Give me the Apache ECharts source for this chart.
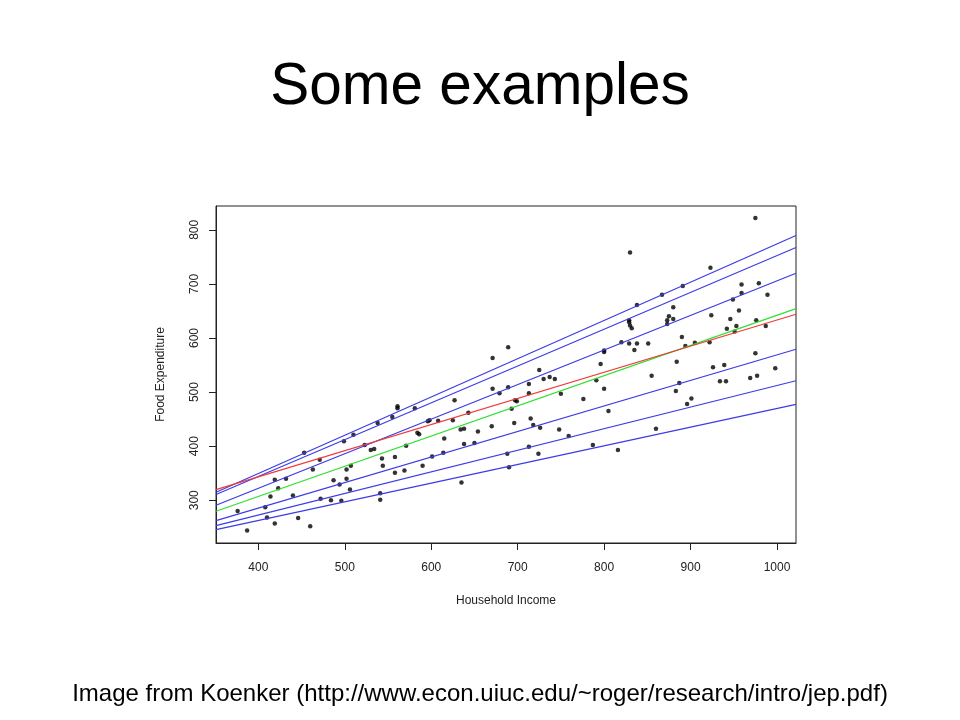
<!DOCTYPE html>
<html>
<head>
<meta charset="utf-8">
<script src="https://cdn.jsdelivr.net/npm/echarts@6/dist/echarts.min.js"></script>
<style>html,body{margin:0;padding:0;background:#fff}#c{width:960px;height:720px}</style>
</head>
<body>
<div id="c"></div>
<script>
var titleText = 'Some examples';
var captionText = 'Image from Koenker (http://www.econ.uiuc.edu/~roger/research/intro/jep.pdf)';
var xName = 'Household Income';
var yName = 'Food Expenditure';
var xTicks = [400, 500, 600, 700, 800, 900, 1000];
var yTicks = [300, 400, 500, 600, 700, 800];

var income = [376,387,408,410,414,419,419,423,432,440,446,453,460,463,471,472,484,487,494,496,
  499,502,502,506,507,510,523,530,534,538,541,541,543,544,555,558,558,561,561,569,
  571,581,584,586,590,596,598,601,608,614,615,625,627,634,635,638,638,643,650,654,
  670,671,671,679,688,689,689,690,693,696,697,699,713,713,713,715,718,724,725,726,
  730,737,743,748,750,759,776,787,791,796,800,800,800,805,816,820,829,829,830,832,
  829,830,835,838,838,851,855,860,867,873,873,875,880,880,884,883,887,890,891,894,
  896,901,905,922,923,924,926,934,939,941,942,946,949,951,953,956,959,959,969,975,
  975,976,977,979,987,989,998];
var foodexp = [280,244,287,268,307,338,257,322,340,309,267,388,252,357,375,303,300,337,329,299,
  409,357,340,320,364,421,402,393,395,443,313,301,377,364,454,380,351,474,470,355,
  401,470,425,422,364,446,448,381,447,388,414,448,485,431,333,432,404,462,406,427,
  437,506,563,498,386,583,509,361,469,443,485,483,515,498,399,451,439,386,541,434,
  524,528,524,431,497,419,487,402,522,552,577,574,506,465,393,592,633,629,623,618,
  590,758,578,661,590,590,530,432,680,626,633,640,635,657,556,502,517,602,696,585,
  478,488,591,592,730,642,546,520,550,520,617,635,671,612,622,651,699,683,526,822,
  572,633,530,701,622,680,544];

// fitted lines read at the left and right edges of the plot
var lineX = [351, 1022];
var q95 = [314.8, 789.4];
var q90 = [310.6, 767.2];
var q75 = [290.7, 719.8];
var q50 = [279.6, 654.3];
var olsMean = [319.8, 643.9];
var q25 = [262.4, 579.1];
var q10 = [253.1, 520.9];
var q05 = [245.7, 477.2];

var FONT = "'Liberation Sans', Arial, sans-serif";
var blue = '#3c3ce6';

function pts(ys) { return [[lineX[0], ys[0]], [lineX[1], ys[1]]]; }
function lineSeries(ys, color) {
  return { type: 'line', data: pts(ys), symbol: 'none', silent: true, z: 3,
    lineStyle: { color: color, width: 1.2 }, animation: false };
}
function plain(v) { return String(v); }

var scatterData = income.map(function (v, i) { return [v, foodexp[i]]; });

var chart = echarts.init(document.getElementById('c'), null, { renderer: 'canvas' });
chart.setOption({
  backgroundColor: '#ffffff',
  animation: false,
  title: [
    { text: titleText, left: 'center', top: 53,
      textStyle: { fontFamily: FONT, fontSize: 58.5, fontWeight: 'normal', color: '#000' } },
    { text: captionText, left: 'center', top: 677,
      textStyle: { fontFamily: FONT, fontSize: 24, fontWeight: 'normal', color: '#000' } }
  ],
  grid: { left: 216, top: 206, right: 164, bottom: 177, show: true,
    borderColor: '#222', borderWidth: 1, backgroundColor: 'transparent' },
  xAxis: {
    type: 'value', min: lineX[0], max: lineX[1],
    name: xName, nameLocation: 'middle', nameGap: 52,
    nameTextStyle: { fontFamily: FONT, fontSize: 12, color: '#222' },
    axisLine: { show: true, lineStyle: { color: '#222' } },
    axisTick: { show: true, inside: false, length: 7, customValues: xTicks, lineStyle: { color: '#222' } },
    axisLabel: { customValues: xTicks, formatter: plain, margin: 19, fontFamily: FONT, fontSize: 12, color: '#222' },
    splitLine: { show: false }
  },
  yAxis: {
    type: 'value', min: 221, max: 844,
    name: yName, nameLocation: 'middle', nameGap: 49,
    nameTextStyle: { fontFamily: FONT, fontSize: 12, color: '#222' },
    axisLine: { show: true, lineStyle: { color: '#222' } },
    axisTick: { show: true, inside: false, length: 7, customValues: yTicks, lineStyle: { color: '#222' } },
    axisLabel: { customValues: yTicks, formatter: plain, rotate: 90, margin: 15, fontFamily: FONT, fontSize: 12, color: '#222' },
    splitLine: { show: false }
  },
  series: [
    { type: 'scatter', data: scatterData, symbol: 'circle', symbolSize: 4.5, z: 2,
      itemStyle: { color: '#000' }, silent: true },
    lineSeries(q95, blue),
    lineSeries(q90, blue),
    lineSeries(q75, blue),
    lineSeries(q25, blue),
    lineSeries(q10, blue),
    lineSeries(q05, blue),
    lineSeries(q50, '#2fe02f'),
    lineSeries(olsMean, '#f03a3a')
  ]
});
</script>
</body>
</html>
